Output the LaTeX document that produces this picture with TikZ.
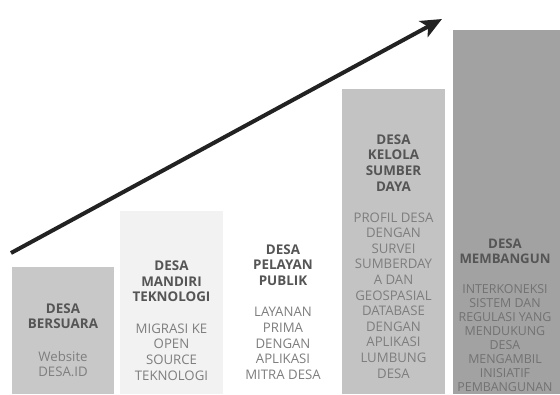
\documentclass[tikz,border=0pt]{standalone}
\usepackage{fontspec}
\setmainfont{Open Sans}
\usetikzlibrary{arrows.meta}
\definecolor{cA}{HTML}{C8C8C8}
\definecolor{cB}{HTML}{F2F2F2}
\definecolor{cC}{HTML}{FFFFFF}
\definecolor{cD}{HTML}{C3C3C3}
\definecolor{cE}{HTML}{A2A2A2}
\definecolor{ttlgrey}{HTML}{555555}
\definecolor{bdygrey}{HTML}{7E7E7E}
\definecolor{bdydark}{HTML}{727272}
\definecolor{arrowc}{HTML}{222222}
\begin{document}
\begin{tikzpicture}[x=1pt,y=-1pt,
  colbox/.style={draw=none, inner sep=0pt, outer sep=0pt, anchor=north west},
  ttl/.style={font=\bfseries\fontsize{13.4}{15.6}\selectfont, text=ttlgrey, align=center, inner sep=0pt, anchor=north},
  bdy/.style={font=\fontsize{13.2}{15.6}\selectfont, text=bdygrey, align=center, inner sep=0pt, anchor=north},
  ttlsm/.style={ttl, font=\bfseries\fontsize{13.2}{15}\selectfont},
  bdysm/.style={bdy, font=\fontsize{12.4}{14}\selectfont, text=bdydark}]
\useasboundingbox[fill=white] (0,0) rectangle (560,394);
% columns
\node[colbox, fill=cA, minimum width=102pt, minimum height=127pt] (b1) at (12,267) {};
\node[colbox, fill=cB, minimum width=103pt, minimum height=183pt] (b2) at (120,211) {};
\node[colbox, fill=cC, minimum width=105pt, minimum height=244pt] (b3) at (230,150) {};
\node[colbox, fill=cD, minimum width=103pt, minimum height=305pt] (b4) at (342,89) {};
\node[colbox, fill=cE, minimum width=107pt, minimum height=364pt] (b5) at (453,30) {};
% texts
\node[ttl] (t1) at (63,303.3) {DESA\\BERSUARA};
\node[bdy] (d1) at (63,350.8) {Website\\DESA.ID};
\node[ttl] (t2) at (171.5,260.5) {DESA\\MANDIRI\\TEKNOLOGI};
\node[bdy] (d2) at (171.5,323.5) {MIGRASI KE\\OPEN\\SOURCE\\TEKNOLOGI};
\node[ttl] (t3) at (283,244.3) {DESA\\PELAYAN\\PUBLIK};
\node[bdy] (d3) at (283,307.3) {LAYANAN\\PRIMA\\DENGAN\\APLIKASI\\MITRA DESA};
\node[ttl] (t4) at (393.5,134.3) {DESA\\KELOLA\\SUMBER\\DAYA};
\node[bdy] (d4) at (393.5,212.3) {PROFIL DESA\\DENGAN\\SURVEI\\SUMBERDAY\\A DAN\\GEOSPASIAL\\DATABASE\\DENGAN\\APLIKASI\\LUMBUNG\\DESA};
\node[ttlsm] (t5) at (505,238.6) {DESA\\MEMBANGUN};
\node[bdysm] (d5) at (505,284.5) {INTERKONEKSI\\SISTEM DAN\\REGULASI YANG\\MENDUKUNG\\DESA\\MENGAMBIL\\INISIATIF\\PEMBANGUNAN};
% arrow
\coordinate (as) at (11,253);
\coordinate (ae) at (442,19);
\draw[arrowc, line width=4pt, -{Stealth[length=21pt,width=18pt,inset=5pt]}] (as) -- (ae);
\end{tikzpicture}
\end{document}
